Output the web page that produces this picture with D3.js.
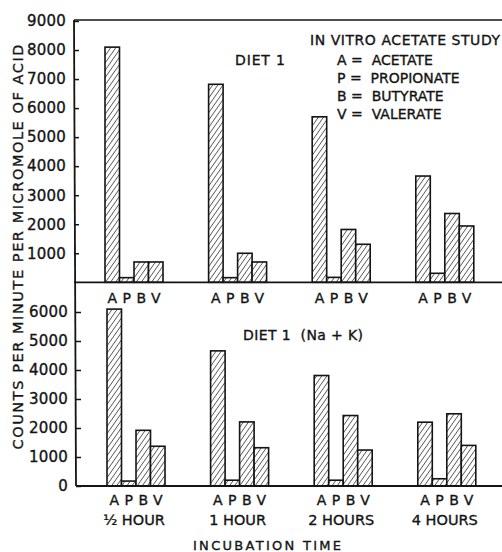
<!DOCTYPE html>
<html>
<head>
<meta charset="utf-8">
<script src="https://cdn.jsdelivr.net/npm/d3@7"></script>
<style>
  html, body { margin: 0; padding: 0; background: #ffffff; }
  svg text { font-family: "DejaVu Sans", sans-serif; fill: #141414; stroke: #141414; stroke-width: 0.35px; }
</style>
</head>
<body>
<svg id="chart" width="502" height="552"></svg>
<script>
// ---- data ----
const times = ["½ HOUR", "1 HOUR", "2 HOURS", "4 HOURS"];
const acids = ["A", "P", "B", "V"];
const dietI      = { A: [8100, 6820, 5700, 3660], P: [160, 160, 170, 310], B: [700, 1000, 1820, 2370], V: [700, 700, 1310, 1940] };
const dietINaK   = { A: [6100, 4660, 3810, 2200], P: [170, 200, 200, 250], B: [1920, 2210, 2430, 2490], V: [1370, 1320, 1240, 1400] };
const topTicks = [1000, 2000, 3000, 4000, 5000, 6000, 7000, 8000, 9000];
const bottomTicks = [0, 1000, 2000, 3000, 4000, 5000, 6000];
const legendLines = ["A =  ACETATE", "P =  PROPIONATE", "B =  BUTYRATE", "V =  VALERATE"];

const svg = d3.select("#chart");
const ink = "#141414";

// hatch pattern
const defs = svg.append("defs");
const pat = defs.append("pattern")
  .attr("id", "hatch").attr("patternUnits", "userSpaceOnUse")
  .attr("width", 4.2).attr("height", 4.2)
  .attr("patternTransform", "rotate(35)");
pat.append("rect").attr("width", 4.2).attr("height", 4.2).attr("fill", "#fff");
pat.append("line").attr("x1", 0).attr("y1", 0).attr("x2", 0).attr("y2", 4.2)
  .attr("stroke", ink).attr("stroke-width", 1.2);

// scales
const yTop = d3.scaleLinear().domain([0, 9000]).range([282.3, 21]);
const yBot = d3.scaleLinear().domain([0, 6000]).range([486, 312]);

function groupScale(x0) {
  return d3.scaleBand().domain(times).range([x0, x0 + 368.8]).paddingInner(0.44).paddingOuter(0);
}
const xTop = groupScale(105);
const xBot = groupScale(107);
const xIn = d3.scaleBand().domain(acids).range([0, xTop.bandwidth()]);

function drawPanel(data, xG, y, axisX, ticks, labelY) {
  const g = svg.append("g");
  times.forEach((t, i) => {
    acids.forEach(a => {
      const v = data[a][i];
      g.append("rect")
        .attr("x", xG(t) + xIn(a))
        .attr("y", y(v))
        .attr("width", xIn.bandwidth())
        .attr("height", y(0) - y(v))
        .attr("fill", "url(#hatch)")
        .attr("stroke", ink).attr("stroke-width", 1.6);
      g.append("text")
        .attr("x", xG(t) + xIn(a) + xIn.bandwidth() / 2)
        .attr("y", labelY)
        .attr("text-anchor", "middle").attr("dominant-baseline", "central")
        .attr("font-size", 14).text(a);
    });
  });
  // axis
  const ax = svg.append("g").attr("transform", `translate(${axisX},0)`)
    .call(d3.axisLeft(y).tickValues(ticks).tickSize(-5).tickSizeOuter(0).tickPadding(8).tickFormat(d3.format("d")));
  ax.select(".domain").remove();
  ax.selectAll(".tick line").attr("stroke", ink).attr("stroke-width", 1.5);
  ax.selectAll(".tick text").attr("font-size", 15).attr("letter-spacing", 0.2)
    .attr("font-family", "DejaVu Sans, sans-serif").attr("fill", ink);
  // baseline
  svg.append("line").attr("x1", axisX).attr("x2", 502).attr("y1", y(0)).attr("y2", y(0))
    .attr("stroke", ink).attr("stroke-width", 1.8);
}

drawPanel(dietI, xTop, yTop, 74, topTicks, 298);
drawPanel(dietINaK, xBot, yBot, 76, bottomTicks, 500);

// frame: top line and left line
svg.append("line").attr("x1", 74).attr("x2", 502).attr("y1", yTop(9000) - 1).attr("y2", yTop(9000) - 1)
  .attr("stroke", ink).attr("stroke-width", 1.6);
svg.append("line").attr("x1", 74).attr("x2", 76).attr("y1", yTop(9000) - 1).attr("y2", yBot(0))
  .attr("stroke", ink).attr("stroke-width", 1.8);

// panel titles
svg.append("text").attr("x", 235).attr("y", 60).attr("dominant-baseline", "central")
  .attr("font-size", 14).attr("textLength", 50).text("DIET 1");
svg.append("text").attr("x", 243).attr("y", 335).attr("dominant-baseline", "central")
  .attr("font-size", 14).attr("textLength", 120).attr("xml:space", "preserve").text("DIET 1  (Na + K)");

// legend
svg.append("text").attr("x", 310).attr("y", 40).attr("dominant-baseline", "central")
  .attr("font-size", 14).attr("textLength", 190).text("IN VITRO  ACETATE  STUDY");
legendLines.forEach((s, i) => {
  svg.append("text").attr("x", 337).attr("y", 60 + i * 18).attr("dominant-baseline", "central")
    .attr("font-size", 14).attr("xml:space", "preserve").text(s);
});

// x labels
times.forEach(t => {
  svg.append("text").attr("x", xBot(t) + xBot.bandwidth() / 2 - 2).attr("y", 520)
    .attr("text-anchor", "middle").attr("dominant-baseline", "central")
    .attr("font-size", 14.5).text(t);
});
svg.append("text").attr("x", 267).attr("y", 545).attr("text-anchor", "middle").attr("dominant-baseline", "central")
  .attr("font-size", 13).attr("textLength", 148).text("INCUBATION  TIME");

// y title
svg.append("text").attr("transform", "translate(18,247) rotate(-90)")
  .attr("text-anchor", "middle").attr("dominant-baseline", "central")
  .attr("font-size", 14.5).attr("textLength", 405)
  .text("COUNTS  PER  MINUTE  PER  MICROMOLE  OF  ACID");
</script>
</body>
</html>
